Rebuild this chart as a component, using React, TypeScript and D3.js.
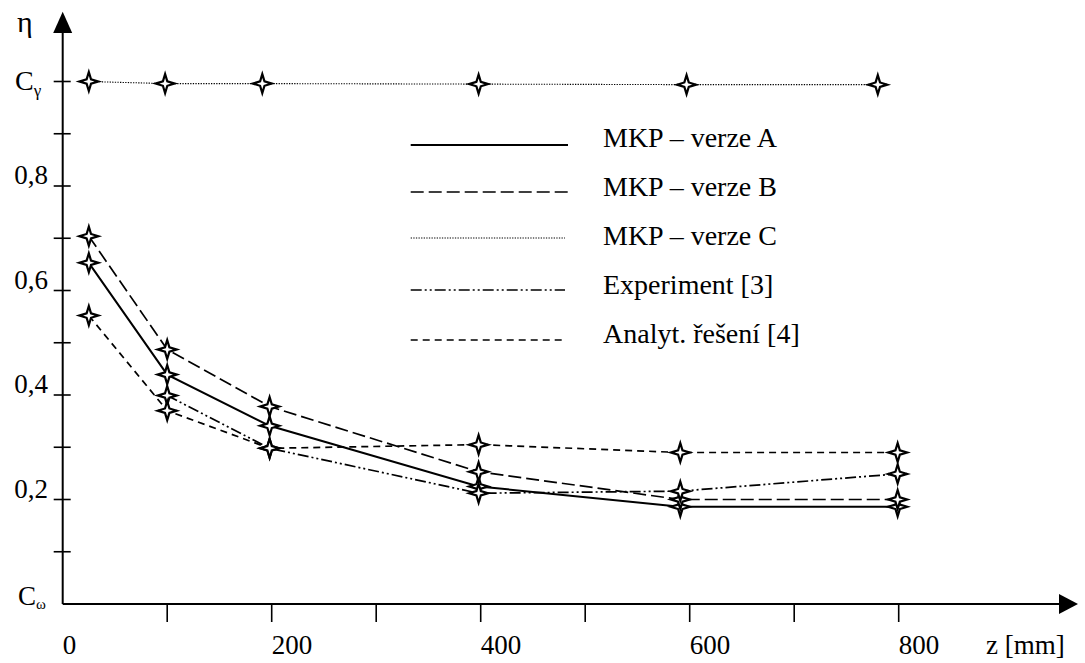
import React from "react";
import * as d3 from "d3";

// ---- data ----
const zMM = [25, 100, 198, 398, 591, 799];
const verzeA = [0.653, 0.439, 0.341, 0.225, 0.186, 0.186];
const verzeB = [0.704, 0.487, 0.378, 0.253, 0.2, 0.2];
const zExp = [100, 198, 398, 591, 799];
const experiment = [0.399, 0.298, 0.212, 0.216, 0.249];
const analyt = [0.552, 0.37, 0.298, 0.305, 0.29, 0.29];
const zC = [25, 98, 191, 398, 597, 780];
const verzeC = [1.0, 0.996, 0.996, 0.995, 0.994, 0.994];

const xTickValues = [100, 200, 300, 400, 500, 600, 700, 800];
const xTickLabels = [0, 200, 400, 600, 800];
const yTickValues = [0.1, 0.2, 0.3, 0.4, 0.5, 0.6, 0.7, 0.8, 0.9, 1.0];
const yTickLabels = [0.2, 0.4, 0.6, 0.8];

const legendNames = [
  "MKP – verze A",
  "MKP – verze B",
  "MKP – verze C",
  "Experiment [3]",
  "Analyt. řešení [4]",
];

const W = 1085;
const H = 663;
const FONT = "Liberation Serif, DejaVu Serif, serif";

const x = d3.scaleLinear().domain([0, 800]).range([62.7, 898.7]);
const y = d3.scaleLinear().domain([0, 1]).range([604, 81.5]);

const styles = [
  { dash: "none", width: 2 },
  { dash: "13,5", width: 1.7 },
  { dash: "1.3,1.3", width: 1.1 },
  { dash: "11,3,2,3,2,3", width: 1.7 },
  { dash: "7,5", width: 1.7 },
];

const starPath = (() => {
  const r = 9.5;
  const k = 2.2;
  const pts = [
    [0, -r], [k, -k], [r, 0], [k, k], [0, r], [-k, k], [-r, 0], [-k, -k],
  ];
  return "M" + pts.map((p) => p.join(",")).join("L") + "Z";
})();

function Star({ cx, cy }: { cx: number; cy: number }) {
  return (
    <path
      d={starPath}
      transform={`translate(${cx},${cy})`}
      fill="#fff"
      stroke="#000"
      strokeWidth={2.2}
      strokeLinejoin="miter"
    />
  );
}

const txt = { fontFamily: FONT };

export default function App() {
  const line = d3
    .line<[number, number]>()
    .x((d) => x(d[0]))
    .y((d) => y(d[1]));

  const series: { xs: number[]; ys: number[]; style: number }[] = [
    { xs: zMM, ys: verzeA, style: 0 },
    { xs: zMM, ys: verzeB, style: 1 },
    { xs: zC, ys: verzeC, style: 2 },
    { xs: zExp, ys: experiment, style: 3 },
    { xs: zMM, ys: analyt, style: 4 },
  ];

  const legendBase = [147, 196, 245, 294, 343];
  const legendLineY = [145, 192, 238, 290, 340];

  const x0 = x(0);
  const y0 = y(0);

  return (
    <svg
      width={W}
      height={H}
      style={{ position: "absolute", left: 0, top: 0, background: "#fff", fontFamily: FONT }}
    >
      <rect width={W} height={H} fill="#fff" />
      {/* axes */}
      <line x1={x0} y1={y0} x2={x0} y2={30} stroke="#000" strokeWidth={2} />
      <path d={`M${x0},11.7L${x0 + 9.5},33L${x0 - 9.5},33Z`} fill="#000" />
      <line x1={x0} y1={y0} x2={1062} y2={y0} stroke="#000" strokeWidth={2} />
      <path d={`M1078,${y0}L1059,${y0 - 10}L1059,${y0 + 10}Z`} fill="#000" />

      {yTickValues.map((v) => (
        <line key={"yt" + v} x1={x0 - 9} x2={x0 + 8} y1={y(v)} y2={y(v)} stroke="#000" strokeWidth={1.6} />
      ))}
      {xTickValues.map((v) => (
        <line key={"xt" + v} x1={x(v)} x2={x(v)} y1={y0} y2={y0 + 18} stroke="#000" strokeWidth={1.6} />
      ))}

      {xTickLabels.map((v) => (
        <text key={"xl" + v} x={x(v)} y={654} fontSize={27} textAnchor="start" style={txt}>
          {v}
        </text>
      ))}
      <text x={986} y={654} fontSize={27} style={txt}>z [mm]</text>

      {yTickLabels.map((v) => (
        <text key={"yl" + v} x={48} y={y(v) - 2} fontSize={27} textAnchor="end" style={txt}>
          {v.toFixed(1).replace(".", ",")}
        </text>
      ))}
      <text x={15} y={90} fontSize={28} style={txt}>
        C<tspan fontSize={17} dy={6}>γ</tspan>
      </text>
      <text x={18} y={605} fontSize={27} style={txt}>
        C<tspan fontSize={15} dy={4}>ω</tspan>
      </text>
      <text x={17} y={32} fontSize={30} style={txt}>η</text>

      {/* series lines */}
      {series.map((s, i) => (
        <path
          key={"s" + i}
          d={line(s.xs.map((v, j) => [v, s.ys[j]] as [number, number])) || ""}
          fill="none"
          stroke="#000"
          strokeWidth={styles[s.style].width}
          strokeDasharray={styles[s.style].dash}
        />
      ))}
      {/* markers */}
      {series.map((s, i) =>
        s.xs.map((v, j) => <Star key={`m${i}-${j}`} cx={x(v)} cy={y(s.ys[j])} />)
      )}

      {/* legend */}
      {legendNames.map((name, i) => (
        <g key={"lg" + i}>
          <line
            x1={410.7}
            x2={i === 0 || i === 1 ? 568 : 565}
            y1={legendLineY[i]}
            y2={legendLineY[i]}
            stroke="#000"
            strokeWidth={styles[i].width}
            strokeDasharray={styles[i].dash}
          />
          <text x={603} y={legendBase[i]} fontSize={28} style={txt}>
            {name}
          </text>
        </g>
      ))}
    </svg>
  );
}
